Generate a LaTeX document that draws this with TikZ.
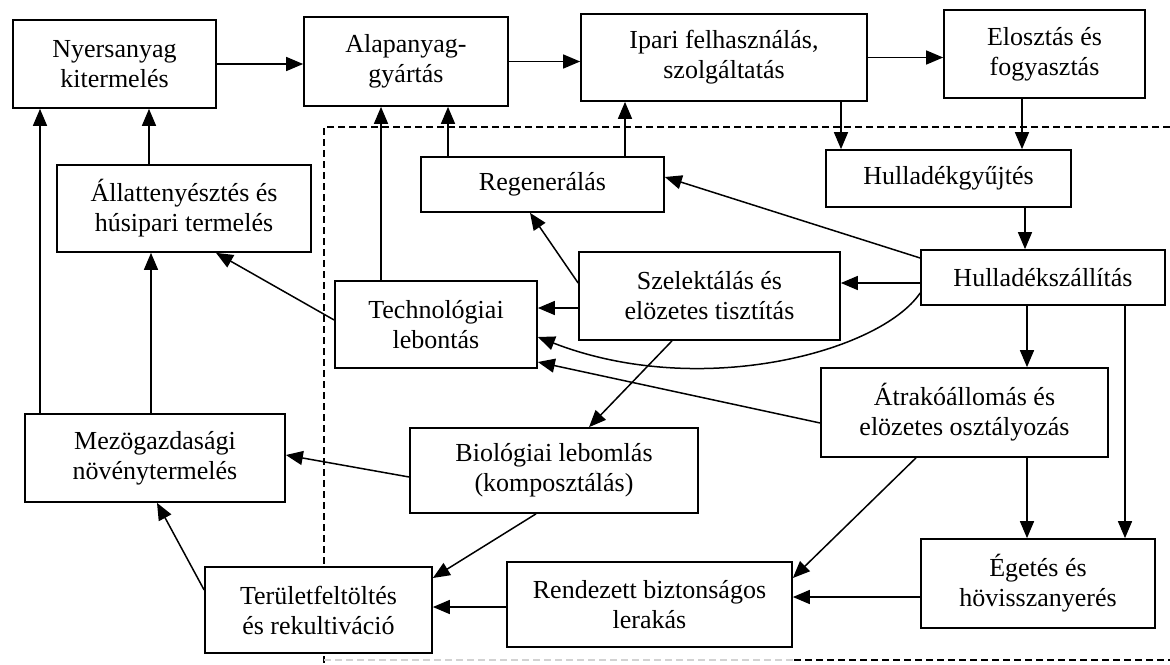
\documentclass[tikz,border=0pt]{standalone}
\usepackage{fontspec}
\setmainfont{Liberation Serif}
\usetikzlibrary{arrows.meta}
\tikzset{
  box/.style={draw, line width=1.7pt, fill=white, align=center, inner sep=0pt,
    font=\fontsize{26}{30}\selectfont},
  arr/.style={-{Triangle[length=17pt,width=14pt]}, line width=1.5pt},
  bound/.style={line width=1.6pt, dash pattern=on 7pt off 4pt},
}
\begin{document}
\begin{tikzpicture}[x=1pt,y=-1pt]
\useasboundingbox (0,0) rectangle (1170,664);
\fill[white] (0,0) rectangle (1170,664);
% dashed boundary
\coordinate (dtl) at (324,127);
\coordinate (dtr) at (1170,127);
\coordinate (dbl) at (324,664);
\coordinate (dbm) at (794,660);
\coordinate (dbr) at (1170,660);
\draw[bound] (dtr) -- (dtl) -- (dbl);
\draw[bound, gray!35] (dtl |- dbm) -- (dbm);
\draw[bound] (dbm) -- (dbr);
% nodes
\node[box, minimum width=203pt, minimum height=88pt] (nyers) at (114.5,64) {Nyersanyag\\kitermelés};
\node[box, minimum width=204pt, minimum height=89pt] (alap) at (406,61.5) {Alapanyag-\\gyártás};
\node[box, minimum width=286pt, minimum height=87pt] (ipari) at (724,57.5) {Ipari felhasználás,\\szolgáltatás};
\node[box, minimum width=201pt, minimum height=88pt] (eloszt) at (1044.5,54) {Elosztás és\\fogyasztás};
\node[box, minimum width=254pt, minimum height=87pt] (allat) at (184,208.5) {Állattenyésztés és\\húsipari termelés};
\node[box, minimum width=243pt, minimum height=55pt] (regen) at (542.5,184.5) {Regenerálás};
\node[box, minimum width=245pt, minimum height=57pt] (hgyujt) at (948.5,178.5) {Hulladékgyűjtés};
\node[box, minimum width=244pt, minimum height=55pt] (hszall) at (1043,277.5) {Hulladékszállítás};
\node[box, minimum width=261pt, minimum height=88pt] (szelekt) at (709.5,296) {Szelektálás és\\elözetes tisztítás};
\node[box, minimum width=202pt, minimum height=87pt] (techn) at (436,324.5) {Technológiai\\lebontás};
\node[box, minimum width=287pt, minimum height=89pt] (atrako) at (964.5,412.5) {Átrakóállomás és\\elözetes osztályozás};
\node[box, minimum width=260pt, minimum height=88pt] (mezo) at (155,458) {Mezögazdasági\\növénytermelés};
\node[box, minimum width=288pt, minimum height=85pt] (bio) at (554,470.5) {Biológiai lebomlás\\(komposztálás)};
\node[box, minimum width=227pt, minimum height=86pt] (terul) at (318.5,610) {Területfeltöltés\\és rekultiváció};
\node[box, minimum width=285pt, minimum height=85pt] (rend) at (649.5,604.5) {Rendezett biztonságos\\lerakás};
\node[box, minimum width=234pt, minimum height=89pt] (eget) at (1038,583.5) {Égetés és\\hövisszanyerés};
% connectors
\draw[arr] (nyers.east) -- (nyers.east -| alap.west);
\draw[arr] (alap.east) -- (alap.east -| ipari.west);
\draw[arr] (ipari.east) -- (ipari.east -| eloszt.west);
\draw[arr] (ipari.south -| 841,0) -- (hgyujt.north -| 841,0);
\draw[arr] (eloszt.south -| 1022,0) -- (hgyujt.north -| 1022,0);
\draw[arr] (hgyujt.south -| 1025,0) -- (hszall.north -| 1025,0);
\draw[arr] (hszall.south -| 1027,0) -- (atrako.north -| 1027,0);
\draw[arr] (atrako.south -| 1027,0) -- (eget.north -| 1027,0);
\draw[arr] (hszall.south -| 1125,0) -- (eget.north -| 1125,0);
\draw[arr] (eget.west |- 0,597) -- (rend.east |- 0,597);
\draw[arr] (atrako.south -| 916,0) -- (rend.east |- 0,578);
\draw[arr] (rend.west |- 0,607) -- (terul.east |- 0,607);
\draw[arr] (bio.south -| 536,0) -- (terul.east |- 0,578);
\draw[arr] (terul.west |- 0,590) -- (mezo.south -| 157,0);
\draw[arr] (bio.west |- 0,477) -- (mezo.east |- 0,455);
\draw[arr] (mezo.north -| 40,0) -- (nyers.south -| 40,0);
\draw[arr] (mezo.north -| 151,0) -- (allat.south -| 151,0);
\draw[arr] (allat.north -| 149,0) -- (nyers.south -| 149,0);
\draw[arr] (techn.west |- 0,320) -- (allat.south -| 216,0);
\draw[arr] (techn.north -| 381,0) -- (alap.south -| 381,0);
\draw[arr] (regen.north -| 448,0) -- (alap.south -| 448,0);
\draw[arr] (regen.north -| 625,0) -- (ipari.south -| 625,0);
\draw[arr] (szelekt.west |- 0,283) -- (regen.south -| 530,0);
\draw[arr] (hszall.west |- 0,258) -- (regen.east |- 0,177);
\draw[arr] (hszall.west |- 0,283) -- (szelekt.east |- 0,283);
\draw[arr] (szelekt.west |- 0,308) -- (techn.east |- 0,308);
\draw[arr] (hszall.west |- 0,293) .. controls (880,352) and (700,400) .. (techn.east |- 0,337);
\draw[arr] (atrako.west |- 0,423) -- (techn.east |- 0,362);
\draw[arr] (szelekt.south -| 672,0) -- (bio.north -| 589,0);
\end{tikzpicture}
\end{document}
